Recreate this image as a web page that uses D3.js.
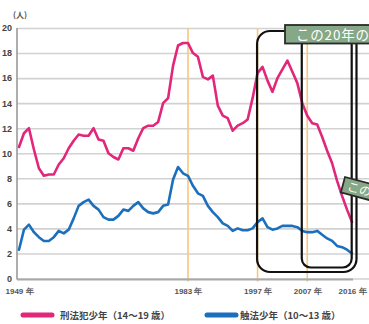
<!DOCTYPE html>
<html><head><meta charset="utf-8">
<script src="https://cdn.jsdelivr.net/npm/d3@7/dist/d3.min.js"></script>
<style>
html,body{margin:0;padding:0;background:#fff;}
svg{display:block;font-family:"Noto Sans CJK JP","Noto Sans",sans-serif;}
</style></head>
<body>
<script>
const years = d3.range(1949, 2017);
const juvenileOffenders = [10.5,11.6,12.0,10.3,8.8,8.2,8.3,8.3,9.1,9.6,
 10.4,11.0,11.5,11.4,11.4,12.0,11.1,11.0,10.0,9.7,
 9.5,10.4,10.4,10.2,11.2,12.0,12.2,12.2,12.5,14.0,
 14.4,17.0,18.6,18.8,18.8,18.0,17.7,16.1,15.9,16.2,
 13.8,13.0,12.8,11.8,12.2,12.4,12.7,14.4,16.4,16.9,
 15.8,14.9,16.0,16.7,17.4,16.5,15.6,14.0,13.0,12.4,
 12.3,11.3,10.2,9.2,7.8,6.6,5.5,4.5];
const childOffenders = [2.3,3.9,4.3,3.7,3.3,3.0,3.0,3.3,3.8,3.6,
 3.9,4.8,5.8,6.1,6.3,5.8,5.5,4.9,4.7,4.7,
 5.0,5.5,5.4,5.8,6.1,5.6,5.3,5.2,5.3,5.8,
 5.9,7.9,8.9,8.4,8.2,7.4,6.8,6.6,5.8,5.3,
 4.9,4.4,4.2,3.8,4.0,3.85,3.85,4.0,4.5,4.8,
 4.1,3.9,4.0,4.2,4.2,4.2,4.1,3.8,3.7,3.7,
 3.8,3.5,3.2,3.0,2.6,2.5,2.3,2.0];
const yTicks = [0,2,4,6,8,10,12,14,16,18,20];
const xTickYears = [1949,1983,1997,2007,2016];
const markerYears = [1983,1997,2007];
const seriesNames = ["刑法犯少年（14～19 歳）","触法少年（10～13 歳）"];
const seriesColors = ["#e2267a","#1c6fbd"];
const unitLabel = "(人)";
const boxLabels = ["この20年の変化","この10年の変化"];
const period20 = [1997,2016];
const period10 = [2007,2016];

const W = 369, H = 324;
const svg = d3.select("body").append("svg").attr("width",W).attr("height",H);

const x = d3.scaleLinear().domain([1949,2016]).range([19,352]);
const y = d3.scaleLinear().domain([0,20]).range([278.5,28]);

// gridlines + y labels
const yAxis = d3.axisLeft(y).tickValues(yTicks).tickSize(-(W-17)).tickPadding(5);
const ga = svg.append("g").attr("transform","translate(17,0)").call(yAxis);
ga.select(".domain").remove();
ga.selectAll(".tick line").attr("stroke","#d2d2d2").attr("stroke-width",1.6);
ga.selectAll(".tick text").attr("fill","#444").attr("font-size",9).attr("font-weight","bold").attr("dx",0);

// left axis line
svg.append("line").attr("x1",17).attr("x2",17).attr("y1",y(20)).attr("y2",y(0)+1)
  .attr("stroke","#9a9a9a").attr("stroke-width",1.6);

// orange markers
svg.selectAll("line.mark").data(markerYears).join("line").attr("class","mark")
  .attr("x1",d=>x(d)).attr("x2",d=>x(d)).attr("y1",y(20)).attr("y2",y(0)+3)
  .attr("stroke","#f6c77e").attr("stroke-width",1.6);

// bottom axis
const xAxis = d3.axisBottom(x).tickValues(xTickYears).tickSize(0).tickPadding(9)
  .tickFormat(d=>d+" 年");
const gx = svg.append("g").attr("transform",`translate(0,${y(0)+1})`).call(xAxis);
gx.select(".domain").attr("d",`M17,0H353`).attr("stroke","#a8a8a8").attr("stroke-width",2);
gx.selectAll(".tick text").attr("fill","#555").attr("font-size",8).attr("font-weight","bold");

// unit label
svg.append("text").attr("x",13).attr("y",18).attr("font-size",8).attr("fill","#555")
  .attr("font-weight","bold").text(unitLabel);

// lines
const line = d3.line().x((d,i)=>x(years[i])).y(d=>y(d)).curve(d3.curveLinear);
[juvenileOffenders, childOffenders].forEach((s,k)=>{
  svg.append("path").datum(s).attr("d",line).attr("fill","none")
    .attr("stroke",seriesColors[k]).attr("stroke-width",2.6)
    .attr("stroke-linejoin","round").attr("stroke-linecap","round");
});

// rounded rectangles
svg.append("rect").attr("x",x(period20[0])-0.5).attr("y",31)
  .attr("width",x(period20[1])+4.5-(x(period20[0])-0.5)).attr("height",272-31)
  .attr("rx",13).attr("fill","none").attr("stroke","#111").attr("stroke-width",2.2);
svg.append("rect").attr("x",x(period10[0])-5.5).attr("y",36)
  .attr("width",x(period10[1])-0.3-(x(period10[0])-5.5)).attr("height",267.5-36)
  .attr("rx",9).attr("fill","none").attr("stroke","#111").attr("stroke-width",2.2);

// label box 1
svg.append("rect").attr("x",285).attr("y",25).attr("width",100).attr("height",18.5)
  .attr("fill","#86a886").attr("stroke","#2a2a2a").attr("stroke-width",1.8);
svg.append("text").attr("x",296).attr("y",40).attr("font-size",13.5).attr("fill","#fff")
  .attr("letter-spacing",0.8).text(boxLabels[0]);

// label box 2 (rotated)
const g2 = svg.append("g").attr("transform","translate(345,177) rotate(15)");
g2.append("rect").attr("x",0).attr("y",0).attr("width",60).attr("height",16)
  .attr("fill","#86a886").attr("stroke","#2a2a2a").attr("stroke-width",1.8);
g2.append("text").attr("x",5).attr("y",12.5).attr("font-size",12).attr("fill","#fff").text(boxLabels[1]);

// legend
const leg = [{x:23,tx:60},{x:207,tx:240}];
leg.forEach((l,k)=>{
  svg.append("line").attr("x1",l.x).attr("x2",l.x+29).attr("y1",315).attr("y2",315)
    .attr("stroke",seriesColors[k]).attr("stroke-width",5).attr("stroke-linecap","round");
  svg.append("text").attr("x",l.tx).attr("y",319).attr("font-size",9.5).attr("font-weight","bold")
    .attr("fill","#444").text(seriesNames[k]);
});
</script>
</body></html>
